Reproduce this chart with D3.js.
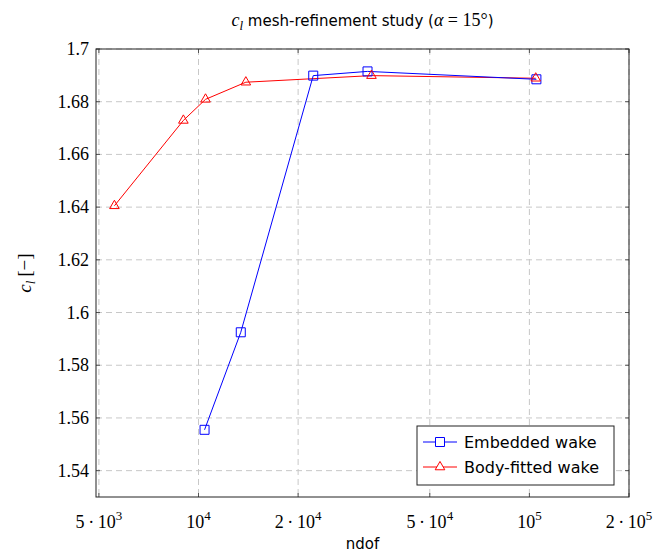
<!DOCTYPE html>
<html>
<head>
<meta charset="utf-8">
<script src="https://cdn.jsdelivr.net/npm/d3@7"></script>
<style>
  body { margin: 0; background: #fff; }
  svg { display: block; }
</style>
</head>
<body>
<svg id="chart" width="656" height="557"></svg>
<script>
// values
const embeddedNdof = [10430, 13420, 22220, 32420, 105000];
const embeddedCl = [1.5555, 1.5925, 1.6899, 1.6915, 1.6885];
const fittedNdof = [5570, 9000, 10500, 13900, 33320, 104500];
const fittedCl = [1.6405, 1.6729, 1.6809, 1.6874, 1.6899, 1.6889];
const xTicks = [5e3, 1e4, 2e4, 5e4, 1e5, 2e5];
const xTickLabels = [['5\u2009\u00b7\u200910', '3'], ['10', '4'], ['2\u2009\u00b7\u200910', '4'], ['5\u2009\u00b7\u200910', '4'], ['10', '5'], ['2\u2009\u00b7\u200910', '5']];
const yTicks = [1.54, 1.56, 1.58, 1.6, 1.62, 1.64, 1.66, 1.68, 1.7];
const yTickLabels = ['1.54', '1.56', '1.58', '1.6', '1.62', '1.64', '1.66', '1.68', '1.7'];
const seriesNames = ['Embedded wake', 'Body-fitted wake'];

const margin = {left: 96, right: 27, top: 49, bottom: 60};
const W = 656, H = 557;
const iw = W - margin.left - margin.right;
const ih = H - margin.top - margin.bottom;

const svg = d3.select('#chart');
const g = svg.append('g').attr('transform', `translate(${margin.left},${margin.top})`);

const x = d3.scaleLog().domain([4900, 2e5]).range([0, iw]);
const y = d3.scaleLinear().domain([1.53, 1.7]).range([ih, 0]);

const serif = '"Liberation Serif", "DejaVu Serif", serif';
const sans = '"DejaVu Sans", "Liberation Sans", sans-serif';

// grid
g.append('g').selectAll('line').data(xTicks).enter().append('line')
  .attr('x1', d => x(d)).attr('x2', d => x(d)).attr('y1', 0).attr('y2', ih)
  .attr('stroke', '#c8c8c8').attr('stroke-dasharray', '6,4');
g.append('g').selectAll('line').data(yTicks).enter().append('line')
  .attr('y1', d => y(d)).attr('y2', d => y(d)).attr('x1', 0).attr('x2', iw)
  .attr('stroke', '#c8c8c8').attr('stroke-dasharray', '6,4');

// inner tick marks
const tk = 4;
xTicks.forEach(d => {
  g.append('line').attr('x1', x(d)).attr('x2', x(d)).attr('y1', ih).attr('y2', ih - tk).attr('stroke', '#555');
  g.append('line').attr('x1', x(d)).attr('x2', x(d)).attr('y1', 0).attr('y2', tk).attr('stroke', '#555');
});
yTicks.forEach(d => {
  g.append('line').attr('y1', y(d)).attr('y2', y(d)).attr('x1', 0).attr('x2', tk).attr('stroke', '#555');
  g.append('line').attr('y1', y(d)).attr('y2', y(d)).attr('x1', iw).attr('x2', iw - tk).attr('stroke', '#555');
});

// frame
g.append('rect').attr('width', iw).attr('height', ih).attr('fill', 'none').attr('stroke', '#222').attr('stroke-width', 1);

// tick labels
const xl = g.append('g').attr('font-family', serif).attr('font-size', 18).attr('fill', '#000');
xTicks.forEach((d, i) => {
  const t = xl.append('text').attr('x', x(d)).attr('y', ih + 31).attr('text-anchor', 'middle');
  t.append('tspan').text(xTickLabels[i][0]);
  t.append('tspan').attr('dy', -8).attr('font-size', 13).text(xTickLabels[i][1]);
});
g.append('g').attr('font-family', serif).attr('font-size', 18)
  .selectAll('text').data(yTicks).enter().append('text')
  .attr('x', -7).attr('y', d => y(d) + 6).attr('text-anchor', 'end')
  .text((d, i) => yTickLabels[i]);

// axis titles
g.append('text').attr('x', iw / 2).attr('y', ih + 52).attr('text-anchor', 'middle')
  .attr('font-family', sans).attr('font-size', 15).text('ndof');
const yt = svg.append('text').attr('transform', `translate(31,${margin.top + ih / 2}) rotate(-90)`)
  .attr('text-anchor', 'middle').attr('font-family', serif).attr('font-size', 19);
yt.append('tspan').attr('font-style', 'italic').text('c');
yt.append('tspan').attr('font-style', 'italic').attr('font-size', 13).attr('dy', 4).text('l');
yt.append('tspan').attr('dy', -4).text('\u2009[\u2212]');

// title
const tt = svg.append('text').attr('x', margin.left + iw / 2).attr('y', 26).attr('text-anchor', 'middle')
  .attr('font-family', sans).attr('font-size', 15);
tt.append('tspan').attr('font-family', serif).attr('font-style', 'italic').attr('font-size', 18).text('c');
tt.append('tspan').attr('font-family', serif).attr('font-style', 'italic').attr('font-size', 13).attr('dy', 4).text('l');
tt.append('tspan').attr('dy', -4).text(' mesh-refinement study (');
tt.append('tspan').attr('font-family', serif).attr('font-style', 'italic').attr('font-size', 18).text('\u03b1');
tt.append('tspan').attr('font-family', serif).attr('font-size', 18).text(' = 15\u00b0');
tt.append('tspan').text(')');

// series
const line = d3.line().x(d => x(d[0])).y(d => y(d[1]));
const embedded = d3.zip(embeddedNdof, embeddedCl);
const fitted = d3.zip(fittedNdof, fittedCl);

const sq = d3.symbol().type(d3.symbolSquare).size(81);
const tri = d3.symbol().type(d3.symbolTriangle).size(40);

g.append('path').datum(fitted).attr('d', line).attr('fill', 'none').attr('stroke', '#ff0000').attr('stroke-width', 1);
g.append('path').datum(embedded).attr('d', line).attr('fill', 'none').attr('stroke', '#0000ff').attr('stroke-width', 1);

g.append('g').selectAll('path').data(embedded).enter().append('path')
  .attr('d', sq).attr('transform', d => `translate(${x(d[0])},${y(d[1])})`)
  .attr('fill', 'none').attr('stroke', '#0000ff').attr('stroke-width', 1);
g.append('g').selectAll('path').data(fitted).enter().append('path')
  .attr('d', tri).attr('transform', d => `translate(${x(d[0])},${y(d[1])})`)
  .attr('fill', 'none').attr('stroke', '#ff0000').attr('stroke-width', 1);

// legend
const lg = svg.append('g').attr('transform', 'translate(417,426)');
lg.append('rect').attr('width', 197).attr('height', 59).attr('fill', '#fff').attr('stroke', '#222');
const colors = ['#0000ff', '#ff0000'];
const syms = [sq, tri];
seriesNames.forEach((name, i) => {
  const cy = 16 + i * 25;
  lg.append('line').attr('x1', 6).attr('x2', 40).attr('y1', cy).attr('y2', cy).attr('stroke', colors[i]);
  lg.append('path').attr('d', syms[i]).attr('transform', `translate(23,${cy})`)
    .attr('fill', '#fff').attr('stroke', colors[i]);
  lg.append('text').attr('x', 47).attr('y', cy + 6).attr('font-family', sans).attr('font-size', 16).text(name);
});
</script>
</body>
</html>
